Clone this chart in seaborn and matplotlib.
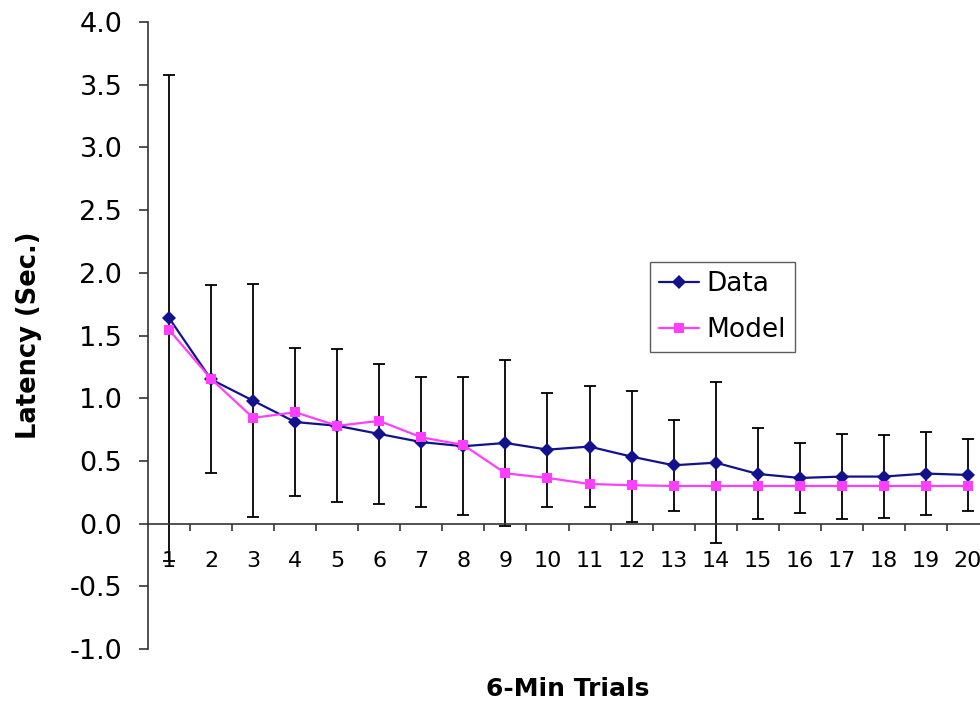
import matplotlib
matplotlib.use("Agg")
import matplotlib.pyplot as plt
import seaborn as sns
import pandas as pd
from matplotlib.ticker import FixedLocator, NullFormatter

trials = list(range(1, 21))
data_mean = [1.64, 1.15, 0.98, 0.81, 0.78, 0.715, 0.65, 0.617, 0.643, 0.59,
             0.614, 0.534, 0.465, 0.486, 0.396, 0.364, 0.375, 0.375, 0.399, 0.388]
data_err = [1.94, 0.75, 0.93, 0.59, 0.61, 0.56, 0.52, 0.55, 0.66, 0.455,
            0.484, 0.52, 0.365, 0.64, 0.363, 0.28, 0.34, 0.33, 0.33, 0.285]
model_mean = [1.545, 1.154, 0.843, 0.888, 0.78, 0.819, 0.688, 0.627, 0.401, 0.364,
              0.316, 0.306, 0.30, 0.30, 0.30, 0.30, 0.30, 0.30, 0.30, 0.30]
series_names = ["Data", "Model"]
y_ticks = [-1.0, -0.5, 0.0, 0.5, 1.0, 1.5, 2.0, 2.5, 3.0, 3.5, 4.0]
y_labels = ["-1.0", "-0.5", "0.0", "0.5", "1.0", "1.5", "2.0", "2.5", "3.0", "3.5", "4.0"]

sns.set_theme(style="white")
plt.rcParams["font.family"] = ["DejaVu Sans"]
plt.rcParams["axes.unicode_minus"] = False
plt.rcParams["text.color"] = "black"
plt.rcParams["axes.labelcolor"] = "black"
plt.rcParams["xtick.labelcolor"] = "black"
plt.rcParams["ytick.labelcolor"] = "black"

df = pd.DataFrame({
    "trial": trials * 2,
    "latency": data_mean + model_mean,
    "series": [series_names[0]] * 20 + [series_names[1]] * 20,
})

fig = plt.figure(figsize=(9.8, 7.11), dpi=100)
ax = fig.add_axes([148 / 980, 1 - 649 / 711, 841 / 980, 627 / 711])

# error bars (black)
ax.errorbar(trials, data_mean, yerr=data_err, fmt="none", ecolor="black",
            elinewidth=1.3, capsize=4.6, capthick=1.3, zorder=2)

palette = {"Data": "#12128C", "Model": "#FF3FFF"}
markers = {"Data": "D", "Model": "s"}
sns.lineplot(data=df, x="trial", y="latency", hue="series", style="series",
             markers=markers, dashes=False, palette=palette, ax=ax,
             linewidth=1.6, markersize=7, markeredgewidth=0, zorder=3)
for line in ax.lines:
    if line.get_marker() == "D":
        line.set_markersize(7)

ax.set_xlim(0.5, 20.5)
ax.set_ylim(-1.0, 4.0)

# spines
for s in ["top", "right"]:
    ax.spines[s].set_visible(False)
ax.spines["bottom"].set_position(("data", 0))
for s in ["left", "bottom"]:
    ax.spines[s].set_visible(True)
    ax.spines[s].set_color("#333333")
    ax.spines[s].set_linewidth(1.2)

ax.set_yticks(y_ticks)
ax.set_yticklabels(y_labels, fontsize=19.5)
ax.tick_params(axis="y", which="major", direction="out", length=6.5, width=1.2,
               color="#333333", pad=12, left=True)

ax.set_xticks(trials)
ax.set_xticklabels([str(t) for t in trials], fontsize=16)
ax.xaxis.set_minor_locator(FixedLocator([t + 0.5 for t in trials]))
ax.xaxis.set_minor_formatter(NullFormatter())
ax.tick_params(axis="x", which="major", length=0, pad=20, bottom=True)
ax.tick_params(axis="x", which="minor", direction="out", length=5, width=1.2,
               color="#333333", bottom=True)
ax.grid(False)

ax.set_ylabel("Latency (Sec.)", fontsize=18.5, fontweight="bold")
ax.yaxis.set_label_coords((29 - 148) / 841, 0.5)
ax.yaxis.label.set_verticalalignment("center")
ax.set_xlabel("6-Min Trials", fontsize=18, fontweight="bold")
ax.xaxis.set_label_coords((568 - 148) / 841, (649 - 689) / 627)
ax.xaxis.label.set_verticalalignment("center")

leg = ax.legend(loc="upper left", bbox_to_anchor=((650 - 148) / 841, (649 - 262) / 627),
                borderaxespad=0, fontsize=19, frameon=True, fancybox=False,
                handlelength=1.5, handletextpad=0.3, borderpad=0.35,
                labelspacing=0.75, title=None)
leg.get_frame().set_edgecolor("#333333")
leg.get_frame().set_linewidth(1.0)

fig.savefig("out.png", dpi=100)
